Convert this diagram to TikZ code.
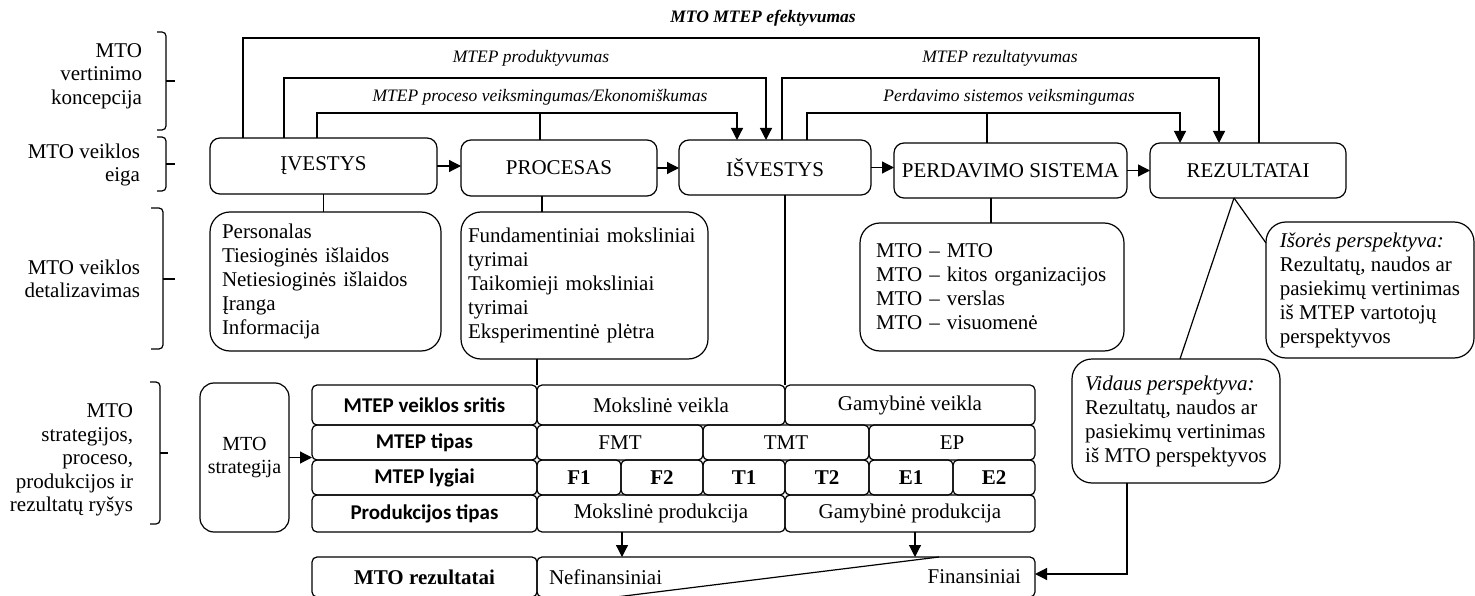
\documentclass[tikz,border=0pt]{standalone}
\usepackage{fontspec}
\setmainfont{Liberation Serif}
\newfontfamily\labelsans{Carlito}
\usetikzlibrary{arrows.meta,calc}

\begin{document}
\begin{tikzpicture}[x=1pt,y=-1pt,
  line width=1.2pt,
  every node/.style={inner sep=0pt,outer sep=0pt},
  arr/.style={-{Triangle[length=12pt,width=12pt]}},
  bigbox/.style={draw,rounded corners=10pt,font=\fontsize{21}{24}\selectfont},
  detbox/.style={draw,rounded corners=20pt,font=\fontsize{21}{24}\selectfont,align=left},
  cellbox/.style={draw,rounded corners=5pt,font=\fontsize{21}{24}\selectfont},
  hdrbox/.style={cellbox,font=\labelsans\bfseries\fontsize{21}{24}\selectfont},
  lvlbox/.style={cellbox,font=\bfseries\fontsize{21}{24}\selectfont},
  ital/.style={font=\itshape\fontsize{17.5}{20}\selectfont},
  side/.style={font=\fontsize{21}{23.5}\selectfont,align=right,anchor=east},
  bracket/.style={rounded corners=4pt}
]
\useasboundingbox (0,0) rectangle (1475,596);

% ---- side captions and brackets ----
\node[side] (cap1) at (142,76) {MTO\\vertinimo\\koncepcija};
\node[side] (cap2) at (140,165) {MTO veiklos\\eiga};
\node[side] (cap3) at (140,279) {MTO veiklos\\detalizavimas};
\node[side] (cap4) at (133,460) {MTO\\strategijos,\\proceso,\\produkcijos ir\\rezultatų ryšys};

\coordinate (b1t) at (157,32);  \coordinate (b1b) at (157,130); \coordinate (b1m) at (166,81);
\coordinate (b2t) at (157,137); \coordinate (b2b) at (157,191); \coordinate (b2m) at (166,164);
\coordinate (b3t) at (151,208); \coordinate (b3b) at (151,349); \coordinate (b3m) at (163,279);
\coordinate (b4t) at (150,382); \coordinate (b4b) at (150,524); \coordinate (b4m) at (160,453);
\foreach \b/\tip in {b1/175,b2/175,b3/175,b4/168}{
  \draw[bracket] (\b t) -- (\b t -| \b m) -- (\b b -| \b m) -- (\b b);
  \draw (\b m) -- (\tip,0 |- \b m);
}

% ---- main process chain ----
\node[bigbox,minimum width=227pt,minimum height=56pt] (ivestys) at (323.5,166) {ĮVESTYS};
\node[bigbox,minimum width=196pt,minimum height=56pt] (procesas) at (559,168) {PROCESAS};
\node[bigbox,minimum width=192pt,minimum height=55pt] (isvestys) at (775,167.5) {IŠVESTYS};
\node[bigbox,minimum width=233pt,minimum height=55pt] (perdavimo) at (1010.5,170.5) {PERDAVIMO SISTEMA};
\node[bigbox,minimum width=196pt,minimum height=55pt] (rezultatai) at (1248,170.5) {REZULTATAI};

\draw[arr] (ivestys.east) -- (ivestys.east -| procesas.west);
\draw[arr] (procesas.east) -- (procesas.east -| isvestys.west);
\draw[arr] (isvestys.east) -- (isvestys.east -| perdavimo.west);
\draw[arr] (perdavimo.east) -- (perdavimo.east -| rezultatai.west);

% ---- evaluation loops above the chain ----
\coordinate (effL) at (243,38);  \coordinate (effR) at (1259,38);
\coordinate (prodL) at (284,78); \coordinate (prodR) at (766,78);
\coordinate (procL) at (317,113); \coordinate (procR) at (737,113); \coordinate (procM) at (540,113);
\coordinate (rezL) at (782,78);  \coordinate (rezR) at (1219,78);
\coordinate (perL) at (807,113); \coordinate (perR) at (1180,113); \coordinate (perM) at (987,113);

\draw (ivestys.north -| effL) -- (effL) -- (effR) -- (effR |- rezultatai.north);
\draw[arr] (ivestys.north -| prodL) -- (prodL) -- (prodR) -- (prodR |- isvestys.north);
\draw[arr] (ivestys.north -| procL) -- (procL) -- (procR) -- (procR |- isvestys.north);
\draw (procesas.north -| procM) -- (procM);
\draw[arr] (isvestys.north -| rezL) -- (rezL) -- (rezR) -- (rezR |- rezultatai.north);
\draw[arr] (isvestys.north -| perL) -- (perL) -- (perR) -- (perR |- rezultatai.north);
\draw (perdavimo.north -| perM) -- (perM);

\node[ital,font=\bfseries\itshape\fontsize{17.5}{20}\selectfont] (effLbl) at (763,18) {MTO MTEP efektyvumas};
\node[ital] (prodLbl) at (531,58) {MTEP produktyvumas};
\node[ital] (procLbl) at (540,97) {MTEP proceso veiksmingumas/Ekonomiškumas};
\node[ital] (rezLbl) at (1000,58) {MTEP rezultatyvumas};
\node[ital] (perLbl) at (1009,97) {Perdavimo sistemos veiksmingumas};

% ---- detail boxes ----
\node[detbox,text width=207pt,inner xsep=12pt,minimum height=139pt] (ivDet) at (325.5,281.5)
  {Personalas\\Tiesioginės išlaidos\\Netiesioginės išlaidos\\Įranga\\Informacija};
\node[detbox,text width=233pt,inner xsep=7pt,minimum height=147pt] (prDet) at (584.5,285.5)
  {Fundamentiniai moksliniai\\tyrimai\\Taikomieji moksliniai\\tyrimai\\Eksperimentinė plėtra};
\node[detbox,text width=232pt,inner xsep=16pt,minimum height=128pt] (peDet) at (992,287)
  {MTO -- MTO\\MTO -- kitos organizacijos\\MTO -- verslas\\MTO -- visuomenė};
\node[detbox,minimum width=208pt,minimum height=136pt] (isores) at (1370,290)
  {\textit{Išorės perspektyva:}\\Rezultatų, naudos ar\\pasiekimų vertinimas\\iš MTEP vartotojų\\perspektyvos};
\node[detbox,minimum width=208pt,minimum height=124pt] (vidaus) at (1176,421)
  {\textit{Vidaus perspektyva:}\\Rezultatų, naudos ar\\pasiekimų vertinimas\\iš MTO perspektyvos};

\coordinate (pcX) at (542,0);
\coordinate (peX) at (991,0);
\coordinate (rzX) at (1234,0);
\draw (ivestys.south) -- (ivestys.south |- ivDet.north);
\draw (procesas.south -| pcX) -- (prDet.north -| pcX);
\draw (perdavimo.south -| peX) -- (peDet.north -| peX);
\draw (rezultatai.south -| rzX) -- ($(isores.north west)+(0,21)$);
\draw (rezultatai.south -| rzX) -- ($(vidaus.north)+(4,0)$);

% ---- strategy table ----
\node[draw,rounded corners=14pt,minimum width=89pt,minimum height=149pt,align=center,
      font=\fontsize{20}{23}\selectfont] (strat) at (244.5,457.5) {MTO\\strategija};

\node[hdrbox,minimum width=225pt,minimum height=40pt] (hSrit) at (424.5,405) {MTEP veiklos sritis};
\node[hdrbox,minimum width=225pt,minimum height=35pt] (hTip) at (424.5,442.5) {MTEP tipas};
\node[hdrbox,minimum width=225pt,minimum height=35pt] (hLyg) at (424.5,477.5) {MTEP lygiai};
\node[hdrbox,minimum width=225pt,minimum height=37pt] (hProd) at (424.5,513.5) {Produkcijos tipas};
\node[lvlbox,minimum width=225pt,minimum height=40pt] (hRez) at (424.5,577) {MTO rezultatai};

\node[cellbox,minimum width=248pt,minimum height=40pt] (mv) at (661,405) {Mokslinė veikla};
\node[cellbox,minimum width=250pt,minimum height=40pt] (gv) at (910,405) {Gamybinė veikla};

\node[cellbox,minimum width=166pt,minimum height=35pt] (fmt) at (620,442.5) {FMT};
\node[cellbox,minimum width=166pt,minimum height=35pt] (tmt) at (786,442.5) {TMT};
\node[cellbox,minimum width=166pt,minimum height=35pt] (ep) at (952,442.5) {EP};

\node[lvlbox,minimum width=84pt,minimum height=35pt] (f1) at (579,477.5) {F1};
\node[lvlbox,minimum width=82pt,minimum height=35pt] (f2) at (662,477.5) {F2};
\node[lvlbox,minimum width=82pt,minimum height=35pt] (t1) at (744,477.5) {T1};
\node[lvlbox,minimum width=84pt,minimum height=35pt] (t2) at (827,477.5) {T2};
\node[lvlbox,minimum width=84pt,minimum height=35pt] (e1) at (911,477.5) {E1};
\node[lvlbox,minimum width=82pt,minimum height=35pt] (e2) at (994,477.5) {E2};

\node[cellbox,minimum width=248pt,minimum height=37pt] (mp) at (661,513.5) {Mokslinė produkcija};
\node[cellbox,minimum width=250pt,minimum height=37pt] (gp) at (910,513.5) {Gamybinė produkcija};

\node[cellbox,minimum width=498pt,minimum height=40pt] (res) at (786,577) {};
\node[font=\fontsize{21}{24}\selectfont,anchor=west] (nefin) at ($(res.west)+(12,0)$) {Nefinansiniai};
\node[font=\fontsize{21}{24}\selectfont,anchor=east] (fin) at ($(res.east)+(-14,0)$) {Finansiniai};
\draw ($(res.north west)+(402,0)$) -- ($(res.south west)+(79,0)$);

\draw[arr] (strat.east) -- (strat.east -| hTip.west);
\draw (prDet.south -| mv.north west) -- (mv.north west);
\draw (isvestys.south -| mv.north east) -- (mv.north east);

\coordinate (aM) at (622,0);
\coordinate (aG) at (915,0);
\draw[arr] (mp.south -| aM) -- (res.north -| aM);
\draw[arr] (gp.south -| aG) -- (res.north -| aG);

\coordinate (vd) at (1127,574);
\draw[arr] (vidaus.south -| vd) -- (vd) -- (res.east |- vd);
\end{tikzpicture}
\end{document}
